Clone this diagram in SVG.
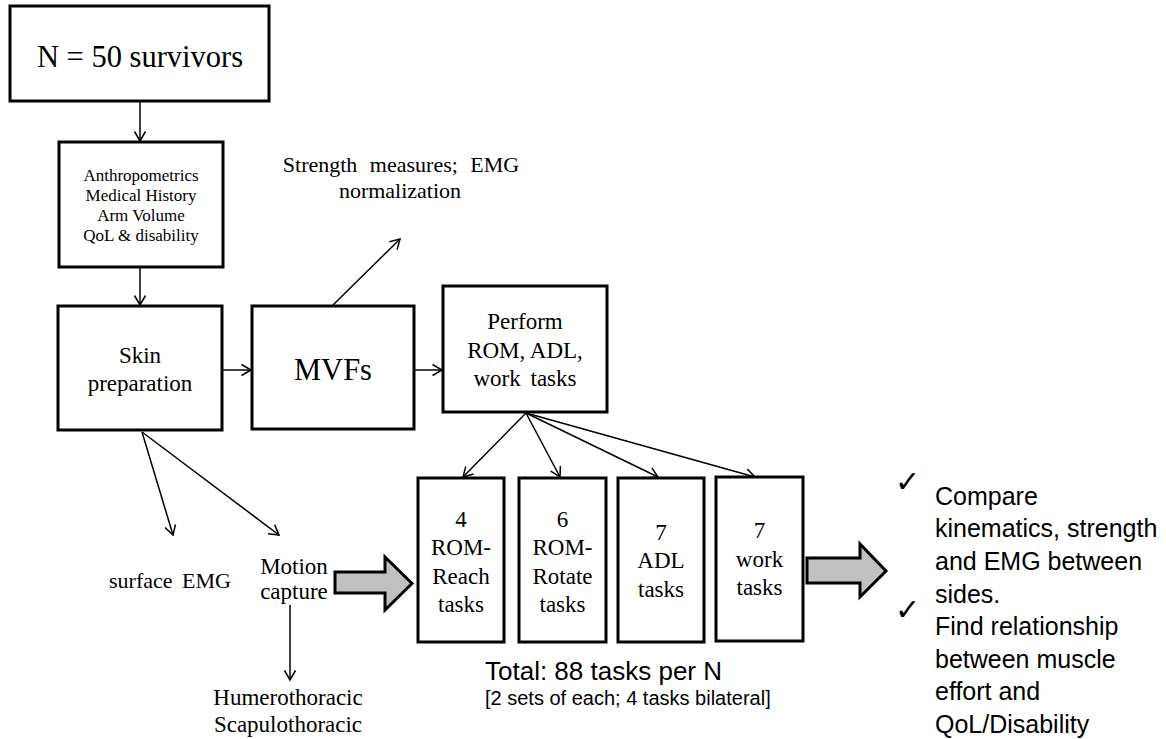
<svg xmlns="http://www.w3.org/2000/svg" width="1166" height="739" viewBox="0 0 1166 739">
<style>
.box{fill:#fff;stroke:#000;stroke-width:3}
.ser{font-family:"Liberation Serif","Times New Roman",serif;fill:#000;text-anchor:middle}
.san{font-family:"Liberation Sans",Arial,sans-serif;fill:#000}
.chk{font-family:"DejaVu Sans",sans-serif;font-size:30px;fill:#000}
.con{stroke:#000;stroke-width:1.5;fill:none;marker-end:url(#ah)}
.big{fill:#c0c0c0;stroke:#000;stroke-width:3;stroke-linejoin:miter}
</style>
<defs>
<marker id="ah" markerUnits="userSpaceOnUse" markerWidth="14" markerHeight="14" viewBox="0 0 14 14" refX="12.5" refY="7" orient="auto">
<path d="M3,1.5 L12.5,7 L3,12.5" fill="none" stroke="#000" stroke-width="1.5"/>
</marker>
</defs>
<rect width="1166" height="739" fill="#fff"/>
<g id="connectors">
<line class="con" x1="140" y1="101" x2="140" y2="141"/>
<line class="con" x1="140" y1="267" x2="140" y2="305"/>
<line class="con" x1="222" y1="370" x2="251" y2="370"/>
<line class="con" x1="414" y1="370" x2="442" y2="370"/>
<line class="con" x1="333" y1="305" x2="400" y2="239"/>
<line class="con" x1="142" y1="432" x2="173" y2="535"/>
<line class="con" x1="142" y1="432" x2="279" y2="535"/>
<line class="con" x1="290" y1="605" x2="290" y2="680"/>
<line class="con" x1="526" y1="413" x2="463" y2="477"/>
<line class="con" x1="526" y1="413" x2="560" y2="477"/>
<line class="con" x1="526" y1="413" x2="658" y2="477"/>
<line class="con" x1="526" y1="413" x2="755" y2="477"/>
<polygon class="big" points="335,572 385,572 385,557 412,583.5 385,610 385,593 335,593"/>
<polygon class="big" points="807,558 860,558 860,544 886,571 860,597 860,583 807,583"/>
</g>
<g id="n-survivors">
<rect class="box" x="10" y="6" width="259" height="95"/>
<text class="ser" x="140" y="67" font-size="30.5">N = 50 survivors</text>
</g>
<g id="anthropometrics">
<rect class="box" x="59" y="142" width="164" height="125"/>
<text class="ser" x="141" font-size="17"><tspan x="141" y="181">Anthropometrics</tspan><tspan x="141" y="201">Medical History</tspan><tspan x="141" y="221">Arm Volume</tspan><tspan x="141" y="241">QoL &amp; disability</tspan></text>
</g>
<g id="skin-prep">
<rect class="box" x="58" y="306" width="164" height="124"/>
<text class="ser" font-size="23"><tspan x="140" y="363">Skin</tspan><tspan x="140" y="391">preparation</tspan></text>
</g>
<g id="mvfs">
<rect class="box" x="252" y="306" width="162" height="123"/>
<text class="ser" x="333" y="380" font-size="30.5">MVFs</text>
</g>
<g id="strength">
<text class="ser" font-size="22"><tspan x="401" y="172" word-spacing="7">Strength measures; EMG</tspan><tspan x="400" y="198">normalization</tspan></text>
</g>
<g id="perform">
<rect class="box" x="443" y="286" width="164" height="126"/>
<text class="ser" font-size="23"><tspan x="525" y="329">Perform</tspan><tspan x="525" y="358">ROM, ADL,</tspan><tspan x="525" y="386" word-spacing="4">work tasks</tspan></text>
</g>
<g id="rom-reach">
<rect class="box" x="418" y="478" width="86" height="164"/>
<text class="ser" font-size="23"><tspan x="461" y="527">4</tspan><tspan x="461" y="555">ROM-</tspan><tspan x="461" y="584">Reach</tspan><tspan x="461" y="612">tasks</tspan></text>
</g>
<g id="rom-rotate">
<rect class="box" x="519" y="478" width="87" height="164"/>
<text class="ser" font-size="23"><tspan x="562.5" y="527">6</tspan><tspan x="562.5" y="555">ROM-</tspan><tspan x="562.5" y="584">Rotate</tspan><tspan x="562.5" y="612">tasks</tspan></text>
</g>
<g id="adl">
<rect class="box" x="618" y="478" width="86" height="164"/>
<text class="ser" font-size="23"><tspan x="661" y="540">7</tspan><tspan x="661" y="568">ADL</tspan><tspan x="661" y="597">tasks</tspan></text>
</g>
<g id="work">
<rect class="box" x="716" y="477" width="87" height="164"/>
<text class="ser" font-size="23"><tspan x="759.5" y="538">7</tspan><tspan x="759.5" y="567">work</tspan><tspan x="759.5" y="595">tasks</tspan></text>
</g>
<g id="surface-emg">
<text class="ser" x="170" y="588" font-size="22" word-spacing="4">surface EMG</text>
</g>
<g id="motion-capture">
<text class="ser" font-size="23"><tspan x="294" y="574">Motion</tspan><tspan x="294" y="599">capture</tspan></text>
</g>
<g id="humero">
<text class="ser" font-size="23"><tspan x="288" y="705">Humerothoracic</tspan><tspan x="288" y="732">Scapulothoracic</tspan></text>
</g>
<g id="total">
<text class="san" x="485" y="680" font-size="26">Total: 88 tasks per N</text>
<text class="san" x="485" y="705" font-size="20">[2 sets of each; 4 tasks bilateral]</text>
</g>
<g id="outcomes">
<text class="chk" x="895" y="492">✓</text>
<text class="chk" x="895" y="620">✓</text>
<text class="san" font-size="25"><tspan x="935" y="505">Compare</tspan><tspan x="935" y="537">kinematics, strength</tspan><tspan x="935" y="570">and EMG between</tspan><tspan x="935" y="603">sides.</tspan><tspan x="935" y="635">Find relationship</tspan><tspan x="935" y="668">between muscle</tspan><tspan x="935" y="700">effort and</tspan><tspan x="935" y="733">QoL/Disability</tspan></text>
</g>
</svg>
